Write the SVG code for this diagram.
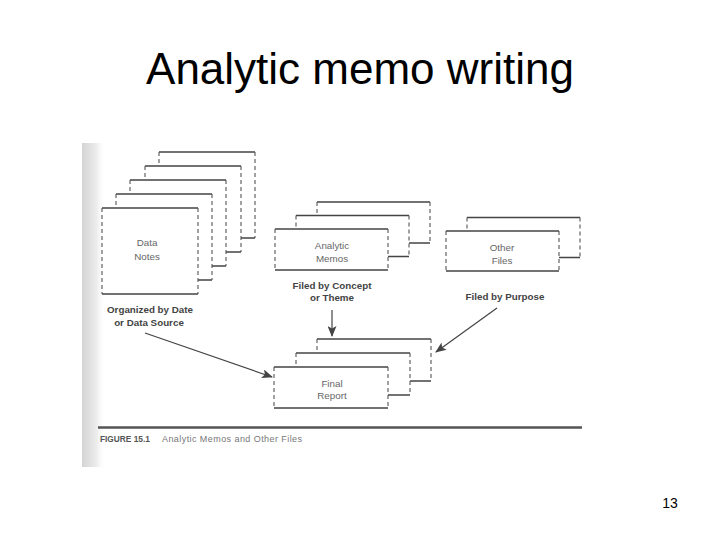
<svg xmlns="http://www.w3.org/2000/svg" width="720" height="540" viewBox="0 0 720 540">
<defs>
<linearGradient id="scan" x1="0" y1="0" x2="1" y2="0">
<stop offset="0" stop-color="#d4d4d4"/>
<stop offset="0.6" stop-color="#ececec"/>
<stop offset="1" stop-color="#ffffff" stop-opacity="0"/>
</linearGradient>
<marker id="ah" markerWidth="11" markerHeight="9" refX="10" refY="4.5" orient="auto" markerUnits="userSpaceOnUse">
<path d="M0,0 L11,4.5 L0,9 L2.5,4.5 Z" fill="#444"/>
</marker>
<style>
.card-bg{fill:#fff;stroke:none}
.solid{stroke:#444;stroke-width:1.3;fill:none}
.dash{stroke:#555;stroke-width:1.1;fill:none;stroke-dasharray:4 3}
.ct{font-family:"Liberation Sans",Arial,sans-serif;font-size:9.8px;fill:#666;text-anchor:middle}
.lb{font-family:"Liberation Sans",Arial,sans-serif;font-size:9.8px;font-weight:bold;fill:#444;text-anchor:middle}
.conn{stroke:#444;stroke-width:1.2;fill:none;marker-end:url(#ah)}
</style>
</defs>
<rect width="720" height="540" fill="#fff"/>
<rect x="82" y="143" width="24" height="324" fill="url(#scan)"/>
<text x="360" y="84" font-family="Liberation Sans, Arial, sans-serif" font-size="44" text-anchor="middle" fill="#000">Analytic memo writing</text>
<text x="670" y="508" font-family="Liberation Sans, Arial, sans-serif" font-size="14" text-anchor="middle" fill="#000">13</text>

<g id="data-notes">
<g transform="translate(159,152)"><rect class="card-bg" width="96" height="86"/><path class="solid" d="M0,0H96M0,86H96"/><path class="dash" d="M0,0V86M96,0V86"/></g>
<g transform="translate(145,166)"><rect class="card-bg" width="96" height="86"/><path class="solid" d="M0,0H96M0,86H96"/><path class="dash" d="M0,0V86M96,0V86"/></g>
<g transform="translate(130,180)"><rect class="card-bg" width="96" height="86"/><path class="solid" d="M0,0H96M0,86H96"/><path class="dash" d="M0,0V86M96,0V86"/></g>
<g transform="translate(116,194)"><rect class="card-bg" width="96" height="86"/><path class="solid" d="M0,0H96M0,86H96"/><path class="dash" d="M0,0V86M96,0V86"/></g>
<g transform="translate(102,208)"><rect class="card-bg" width="96" height="86"/><path class="solid" d="M0,0H96M0,86H96"/><path class="dash" d="M0,0V86M96,0V86"/></g>
<text class="ct" x="147" y="246">Data</text>
<text class="ct" x="147" y="260">Notes</text>
</g>

<g id="analytic-memos">
<g transform="translate(317,202)"><rect class="card-bg" width="113" height="41"/><path class="solid" d="M0,0H113M0,41H113"/><path class="dash" d="M0,0V41M113,0V41"/></g>
<g transform="translate(296,215.5)"><rect class="card-bg" width="113" height="41"/><path class="solid" d="M0,0H113M0,41H113"/><path class="dash" d="M0,0V41M113,0V41"/></g>
<g transform="translate(275,229)"><rect class="card-bg" width="113" height="41"/><path class="solid" d="M0,0H113M0,41H113"/><path class="dash" d="M0,0V41M113,0V41"/></g>
<text class="ct" x="332" y="248.5">Analytic</text>
<text class="ct" x="332" y="262">Memos</text>
</g>

<g id="other-files">
<g transform="translate(467,217.5)"><rect class="card-bg" width="113" height="40"/><path class="solid" d="M0,0H113M0,40H113"/><path class="dash" d="M0,0V40M113,0V40"/></g>
<g transform="translate(446,231)"><rect class="card-bg" width="113" height="40"/><path class="solid" d="M0,0H113M0,40H113"/><path class="dash" d="M0,0V40M113,0V40"/></g>
<text class="ct" x="502" y="250.5">Other</text>
<text class="ct" x="502" y="263.5">Files</text>
</g>

<g id="final-report">
<g transform="translate(317,339)"><rect class="card-bg" width="114" height="42"/><path class="solid" d="M0,0H114M0,42H114"/><path class="dash" d="M0,0V42M114,0V42"/></g>
<g transform="translate(296,353)"><rect class="card-bg" width="114" height="42"/><path class="solid" d="M0,0H114M0,42H114"/><path class="dash" d="M0,0V42M114,0V42"/></g>
<g transform="translate(274,367)"><rect class="card-bg" width="114" height="41"/><path class="solid" d="M0,0H114M0,41H114"/><path class="dash" d="M0,0V41M114,0V41"/></g>
<text class="ct" x="332" y="386.5">Final</text>
<text class="ct" x="332" y="398.5">Report</text>
</g>

<g id="labels">
<text class="lb" x="150" y="313">Organized by Date</text>
<text class="lb" x="149" y="326">or Data Source</text>
<text class="lb" x="332" y="289">Filed by Concept</text>
<text class="lb" x="332" y="301">or Theme</text>
<text class="lb" x="505" y="300">Filed by Purpose</text>
</g>

<g id="connectors">
<line class="conn" x1="145" y1="333" x2="272" y2="377"/>
<line class="conn" x1="332" y1="310" x2="332" y2="336"/>
<line class="conn" x1="497" y1="308" x2="436" y2="352"/>
</g>

<g id="caption">
<line x1="98" y1="427.5" x2="582" y2="427.5" stroke="#555" stroke-width="2.5"/>
<text x="100" y="442" font-family="Liberation Sans, Arial, sans-serif" font-size="8.3" font-weight="bold" fill="#555">FIGURE 15.1</text>
<text x="162" y="442" font-family="Liberation Sans, Arial, sans-serif" font-size="9" fill="#777" textLength="140" lengthAdjust="spacing">Analytic Memos and Other Files</text>
</g>
</svg>
